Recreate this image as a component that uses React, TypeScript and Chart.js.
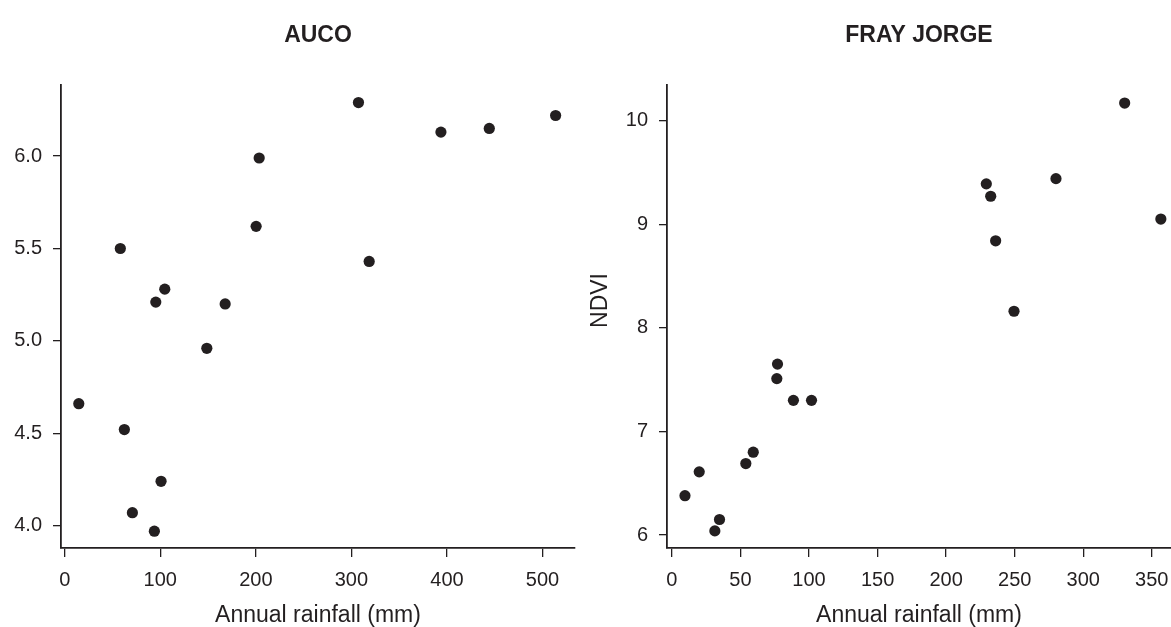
import { useEffect, useRef } from "react";
import { Chart, registerables } from "chart.js";

Chart.register(...registerables);

// ---------------- data ----------------
const aucoRainfall = [203.5, 200.3, 58.2, 104.7, 95.3, 167.9, 148.7, 307.4, 393.7, 444.3, 513.7, 318.6, 14.7, 62.4, 100.8, 70.8, 93.8];
const aucoNdvi = [5.99, 5.62, 5.5, 5.28, 5.21, 5.2, 4.96, 6.29, 6.13, 6.15, 6.22, 5.43, 4.66, 4.52, 4.24, 4.07, 3.97];

const frayRainfall = [330.2, 229.3, 280.1, 232.5, 356.6, 236.1, 249.5, 77.0, 76.5, 88.6, 101.8, 59.3, 53.9, 19.9, 9.5, 34.7, 31.3];
const frayNdvi = [10.17, 9.39, 9.44, 9.27, 9.05, 8.84, 8.16, 7.65, 7.51, 7.3, 7.3, 6.8, 6.69, 6.61, 6.38, 6.15, 6.04];

const aucoXTicks = [0, 100, 200, 300, 400, 500];
const aucoYTicks = [4.0, 4.5, 5.0, 5.5, 6.0];
const frayXTicks = [0, 50, 100, 150, 200, 250, 300, 350];
const frayYTicks = [6, 7, 8, 9, 10];

const xTitle = "Annual rainfall (mm)";
const ndviTitle = "NDVI";

// ---------------- style ----------------
const INK = "#231f20";
const FAMILY = "'Liberation Sans', Arial, Helvetica, sans-serif";
const W = 1171;
const H = 627;

type PanelProps = {
  title: string;
  xs: number[];
  ys: number[];
  xTicks: number[];
  yTicks: number[];
  xMin: number;
  xMax: number;
  yMin: number;
  yMax: number;
  decimals: number;
  left: number;
  width: number;
  yAxisWidth: number;
  padRight: number;
  yLabel?: string;
};

function Panel(p: PanelProps) {
  const ref = useRef<HTMLCanvasElement | null>(null);
  useEffect(() => {
    if (!ref.current) return;
    const yLabelPlugin = {
      id: "yLabel",
      afterDraw(chart: any) {
        if (!p.yLabel) return;
        const { ctx, chartArea } = chart;
        ctx.save();
        ctx.translate(16, (chartArea.top + chartArea.bottom) / 2 - 16);
        ctx.rotate(-Math.PI / 2);
        ctx.font = `23px ${FAMILY}`;
        ctx.fillStyle = INK;
        ctx.textAlign = "center";
        ctx.textBaseline = "middle";
        ctx.fillText(p.yLabel, 0, 0);
        ctx.restore();
      },
    };
    const titleFont = 23;
    const titleLine = titleFont * 1.2;
    const chart = new Chart(ref.current, {
      type: "scatter",
      data: {
        datasets: [
          {
            data: p.xs.map((x, i) => ({ x, y: p.ys[i] })),
            backgroundColor: INK,
            borderWidth: 0,
            pointRadius: 5.6,
            pointHoverRadius: 5.6,
            clip: false,
          },
        ],
      },
      options: {
        responsive: false,
        animation: false,
        devicePixelRatio: 1,
        layout: { autoPadding: false, padding: { left: 0, right: p.padRight, top: 0, bottom: 0 } },
        plugins: {
          legend: { display: false },
          tooltip: { enabled: false },
          title: {
            display: true,
            text: p.title,
            fullSize: false,
            color: INK,
            font: { family: FAMILY, size: titleFont, weight: "bold", lineHeight: 1.2 },
            padding: { top: 22, bottom: 85 - 22 - titleLine },
          },
        },
        scales: {
          x: {
            type: "linear",
            min: p.xMin,
            max: p.xMax,
            afterBuildTicks: (s: any) => {
              s.ticks = p.xTicks.map((v) => ({ value: v }));
            },
            afterFit: (s: any) => {
              s.height = H - 548;
              s.paddingLeft = 0;
              s.paddingRight = 0;
            },
            grid: {
              display: true,
              drawOnChartArea: false,
              drawTicks: true,
              tickLength: 9,
              color: INK,
              lineWidth: 1.3,
            },
            border: { display: true, color: INK, width: 1.8 },
            ticks: {
              color: INK,
              font: { family: FAMILY, size: 20 },
              padding: 11,
              maxRotation: 0,
              autoSkip: false,
              callback: (v: any) => String(v),
            },
            title: {
              display: true,
              text: xTitle,
              color: INK,
              font: { family: FAMILY, size: 23, lineHeight: 1 },
              padding: { top: 0, bottom: 0 },
            },
          },
          y: {
            type: "linear",
            min: p.yMin,
            max: p.yMax,
            afterBuildTicks: (s: any) => {
              s.ticks = p.yTicks.map((v) => ({ value: v }));
            },
            afterFit: (s: any) => {
              s.width = p.yAxisWidth;
              s.paddingTop = 0;
              s.paddingBottom = 0;
            },
            grid: {
              display: true,
              drawOnChartArea: false,
              drawTicks: true,
              tickLength: 8,
              color: INK,
              lineWidth: 1.3,
            },
            border: { display: true, color: INK, width: 1.8 },
            ticks: {
              color: INK,
              font: { family: FAMILY, size: 20 },
              padding: 11,
              autoSkip: false,
              callback: (v: any) => Number(v).toFixed(p.decimals),
            },
          },
        },
      },
      plugins: [yLabelPlugin],
    } as any);
    return () => chart.destroy();
  }, []);
  return (
    <div style={{ position: "absolute", left: p.left, top: 0, width: p.width, height: H }}>
      <canvas ref={ref} width={p.width} height={H} style={{ width: p.width, height: H, display: "block" }} />
    </div>
  );
}

export default function App() {
  return (
    <div style={{ position: "absolute", left: 0, top: 0, width: W, height: H, background: "#fff", overflow: "hidden" }}>
      <Panel
        title="AUCO"
        xs={aucoRainfall}
        ys={aucoNdvi}
        xTicks={aucoXTicks}
        yTicks={aucoYTicks}
        xMin={-3.9}
        xMax={534}
        yMin={3.879}
        yMax={6.385}
        decimals={1}
        left={0}
        width={585}
        yAxisWidth={61}
        padRight={10}
      />
      <Panel
        title="FRAY JORGE"
        xs={frayRainfall}
        ys={frayNdvi}
        xTicks={frayXTicks}
        yTicks={frayYTicks}
        xMin={-3.6}
        xMax={364}
        yMin={5.875}
        yMax={10.344}
        decimals={0}
        left={585}
        width={586}
        yAxisWidth={82}
        padRight={0}
        yLabel={ndviTitle}
      />
    </div>
  );
}
